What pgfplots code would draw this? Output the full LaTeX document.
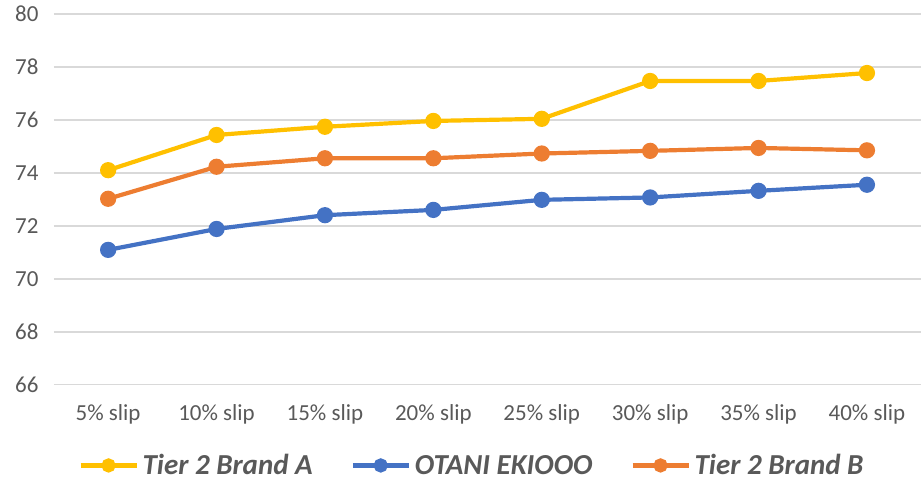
\documentclass[border=0pt]{standalone}
\usepackage{fontspec}
\setmainfont{Carlito}
\usepackage{pgfplots}
\pgfplotsset{compat=1.18}
\definecolor{cA}{HTML}{FFC000}
\definecolor{cB}{HTML}{4472C4}
\definecolor{cC}{HTML}{ED7D31}
\definecolor{txt}{HTML}{595959}
\definecolor{grd}{HTML}{D9D9D9}
\begin{document}
\begin{tikzpicture}
\begin{axis}[
  scale only axis, width=868pt, height=371pt,
  xmin=-0.5, xmax=7.5, ymin=66, ymax=80,
  ytick={66,68,70,72,74,76,78,80},
  xtick={0,1,2,3,4,5,6,7},
  xticklabels={5\% slip,10\% slip,15\% slip,20\% slip,25\% slip,30\% slip,35\% slip,40\% slip},
  axis line style={draw=none},
  major tick style={draw=none},
  ymajorgrids, grid style={grd, line width=1.7pt},
  tick label style={font=\fontsize{23}{27}\selectfont, text=txt},
  /pgf/number format/assume math mode=true,
  yticklabel style={xshift=-12pt},
  xticklabel style={yshift=-16pt},
  clip=false,
  every axis plot/.append style={line width=4.2pt, mark=*, mark size=6pt, mark options={solid}},
  legend columns=3,
  legend style={draw=none, at={(0.482,-0.218)}, anchor=center,
    font=\fontsize{29}{33}\selectfont\bfseries\itshape, text=txt,
    /tikz/every odd column/.append style={column sep=2pt},
    /tikz/every even column/.append style={column sep=36pt}},
  legend image code/.code={\draw[mark repeat=2,mark phase=2, mark size=5pt] plot coordinates {(0pt,0pt) (28pt,0pt) (56pt,0pt)};},
]
\addplot[color=cA] coordinates {(0,74.1) (1,75.43) (2,75.74) (3,75.96) (4,76.04) (5,77.47) (6,77.47) (7,77.77)};
\addlegendentry{Tier 2 Brand A}
\addplot[color=cB] coordinates {(0,71.09) (1,71.88) (2,72.4) (3,72.6) (4,72.98) (5,73.07) (6,73.32) (7,73.55)};
\addlegendentry{OTANI EKIOOO}
\addplot[color=cC] coordinates {(0,73.02) (1,74.23) (2,74.55) (3,74.55) (4,74.73) (5,74.83) (6,74.94) (7,74.85)};
\addlegendentry{Tier 2 Brand B}
\coordinate (bl) at (rel axis cs:0,0);
\coordinate (tr) at (rel axis cs:1,1);
\end{axis}
\path ([shift={(-54pt,-98pt)}]bl) rectangle ([shift={(0pt,14pt)}]tr);
\end{tikzpicture}
\end{document}
